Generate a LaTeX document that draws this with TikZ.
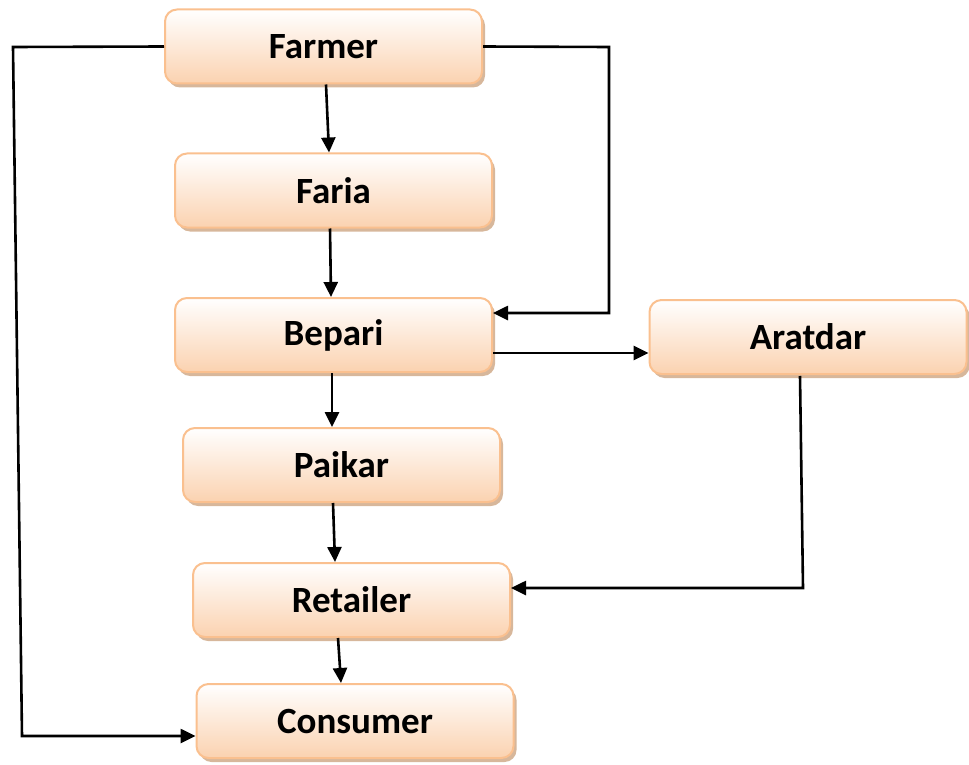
\documentclass[tikz,border=0pt]{standalone}
\usepackage{fontspec}
\setmainfont{Carlito}
\usetikzlibrary{arrows.meta,shadows,calc}
\definecolor{boxborder}{RGB}{250,192,143}
\definecolor{boxbottom}{RGB}{251,210,176}
\definecolor{boxshadow}{RGB}{205,165,130}
\begin{document}
\begin{tikzpicture}[x=1pt,y=-1pt,
  box/.style={rectangle, rounded corners=12pt, draw=boxborder, line width=2pt,
    top color=white, bottom color=boxbottom,
    minimum width=317pt, minimum height=74pt,
    font=\fontsize{37}{44}\selectfont\bfseries,
    drop shadow={shadow xshift=3pt, shadow yshift=-4pt, fill=boxshadow, opacity=0.8}},
  arr/.style={line width=2.6pt, -{Triangle[length=15pt,width=14pt]}}]
\useasboundingbox (0,0) rectangle (969,765);
\node[box] (farmer) at (323.5,46.5) {Farmer};
\node[box] (faria) at (333.5,190.5) {Faria};
\node[box] (bepari) at (333.5,335) {Bepari};
\node[box] (aratdar) at (808,337) {Aratdar};
\node[box] (paikar) at (341.5,465) {Paikar};
\node[box] (retailer) at (351.5,600) {Retailer};
\node[box] (consumer) at (355,721) {Consumer};
% left bypass
\coordinate (lt) at (13,47);
\coordinate (lb) at (22,736);
\draw[arr] (farmer.west) -- (lt) -- (lb) -- (lb -| consumer.west);
% right bypass
\coordinate (rt) at (609,47);
\coordinate (rb) at (609,313);
\draw[arr] (farmer.east) -- (rt) -- (rb) -- (rb -| bepari.east);
% bepari to aratdar
\draw[arr] ($(bepari.east)+(0,18)$) -- ($(aratdar.west)+(0,16)$);
% aratdar to retailer
\coordinate (at) at (800,376);
\coordinate (ab) at (803,588);
\draw[arr] (at) -- (ab) -- (ab -| retailer.east);
% vertical chain
\draw[arr] ($(farmer.south)+(2.5,0)$) -- ($(faria.north)+(-4.5,0)$);
\draw[arr] ($(faria.south)+(-3.5,0)$) -- ($(bepari.north)+(-2.5,0)$);
\draw[arr] ($(bepari.south)+(-1.5,0)$) -- ($(paikar.north)+(-9.5,0)$);
\draw[arr] ($(paikar.south)+(-8.5,0)$) -- ($(retailer.north)+(-16.5,0)$);
\draw[arr] ($(retailer.south)+(-13.5,0)$) -- ($(consumer.north)+(-14,0)$);
\end{tikzpicture}
\end{document}
